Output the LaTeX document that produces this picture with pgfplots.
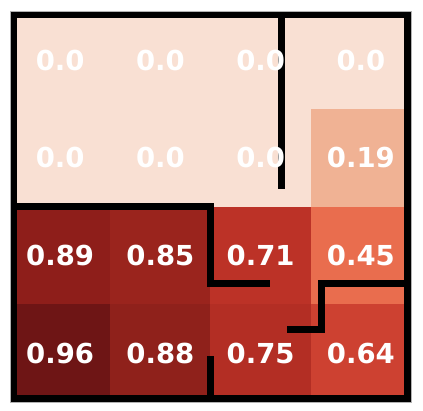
\documentclass[border=0pt]{standalone}
\usepackage{fontspec}
\setmainfont{DejaVu Sans}
\usepackage{pgfplots}
\usepackage{pgfplotstable}
\pgfplotsset{compat=1.18}

% cell centres and printed values, row 0 on top
\pgfplotstableread{
x y lab
0 0 0.0
1 0 0.0
2 0 0.0
3 0 0.0
0 1 0.0
1 1 0.0
2 1 0.0
3 1 0.19
0 2 0.89
1 2 0.85
2 2 0.71
3 2 0.45
0 3 0.96
1 3 0.88
2 3 0.75
3 3 0.64
}\labels

% the same cells as rectangles (four corners each, value as meta)
\pgfplotstableread{
x y v
-0.5 -0.5 0
0.5 -0.5 0
0.5 0.5 0
-0.5 0.5 0
0.5 -0.5 0
1.5 -0.5 0
1.5 0.5 0
0.5 0.5 0
1.5 -0.5 0
2.5 -0.5 0
2.5 0.5 0
1.5 0.5 0
2.5 -0.5 0
3.5 -0.5 0
3.5 0.5 0
2.5 0.5 0
-0.5 0.5 0
0.5 0.5 0
0.5 1.5 0
-0.5 1.5 0
0.5 0.5 0
1.5 0.5 0
1.5 1.5 0
0.5 1.5 0
1.5 0.5 0
2.5 0.5 0
2.5 1.5 0
1.5 1.5 0
2.5 0.5 0.19
3.5 0.5 0.19
3.5 1.5 0.19
2.5 1.5 0.19
-0.5 1.5 0.89
0.5 1.5 0.89
0.5 2.5 0.89
-0.5 2.5 0.89
0.5 1.5 0.85
1.5 1.5 0.85
1.5 2.5 0.85
0.5 2.5 0.85
1.5 1.5 0.71
2.5 1.5 0.71
2.5 2.5 0.71
1.5 2.5 0.71
2.5 1.5 0.45
3.5 1.5 0.45
3.5 2.5 0.45
2.5 2.5 0.45
-0.5 2.5 0.96
0.5 2.5 0.96
0.5 3.5 0.96
-0.5 3.5 0.96
0.5 2.5 0.88
1.5 2.5 0.88
1.5 3.5 0.88
0.5 3.5 0.88
1.5 2.5 0.75
2.5 2.5 0.75
2.5 3.5 0.75
1.5 3.5 0.75
2.5 2.5 0.64
3.5 2.5 0.64
3.5 3.5 0.64
2.5 3.5 0.64
}\cells

\begin{document}
\begin{tikzpicture}
\begin{axis}[
  at={(0,0)}, anchor=south west,
  scale only axis, width=401pt, height=390.5pt,
  xmin=-0.5, xmax=3.5, ymin=-0.5, ymax=3.5, y dir=reverse,
  xtick=\empty, ytick=\empty,
  axis on top,
  axis line style={black!30, line width=0.6pt},
  colormap={cellmap}{[1pt]
    rgb255(0pt)=(249,224,211) rgb255(19pt)=(240,178,148)
    rgb255(45pt)=(233,109,78) rgb255(64pt)=(205,65,49)
    rgb255(71pt)=(188,50,39) rgb255(75pt)=(179,46,36)
    rgb255(85pt)=(154,36,29) rgb255(88pt)=(143,33,27)
    rgb255(89pt)=(142,30,26) rgb255(96pt)=(110,21,21)},
  point meta min=0, point meta max=0.96]
\addplot[patch, patch type=rectangle, shader=flat, point meta=explicit]
  table[x=x, y=y, meta=v] {\cells};
% walls
\addplot[black, line width=7pt, line join=miter] coordinates {(-0.465,-0.465) (3.465,-0.465) (3.465,3.465) (-0.465,3.465) (-0.465,-0.465) (3.465,-0.465)};
\addplot[black, line width=6.8pt] coordinates {(2.21,-0.46) (2.21,1.32)};
\addplot[black, line width=6.8pt, line join=miter] coordinates {(-0.46,1.5) (1.5,1.5) (1.5,2.285) (2.09,2.285)};
\addplot[black, line width=6.8pt] coordinates {(1.5,3.03) (1.5,3.46)};
\addplot[black, line width=6.8pt, line join=miter] coordinates {(3.46,2.285) (2.61,2.285) (2.61,2.755) (2.26,2.755)};
% labels
\addplot[draw=none, mark=none, nodes near coords, point meta=explicit symbolic,
  nodes near coords style={anchor=center, text=white, font=\fontsize{27.5}{32}\selectfont\bfseries}]
  table[x=x, y=y, meta=lab] {\labels};
\end{axis}
\path (-10pt,-8.5pt) rectangle (413pt,402pt);
\end{tikzpicture}
\end{document}
